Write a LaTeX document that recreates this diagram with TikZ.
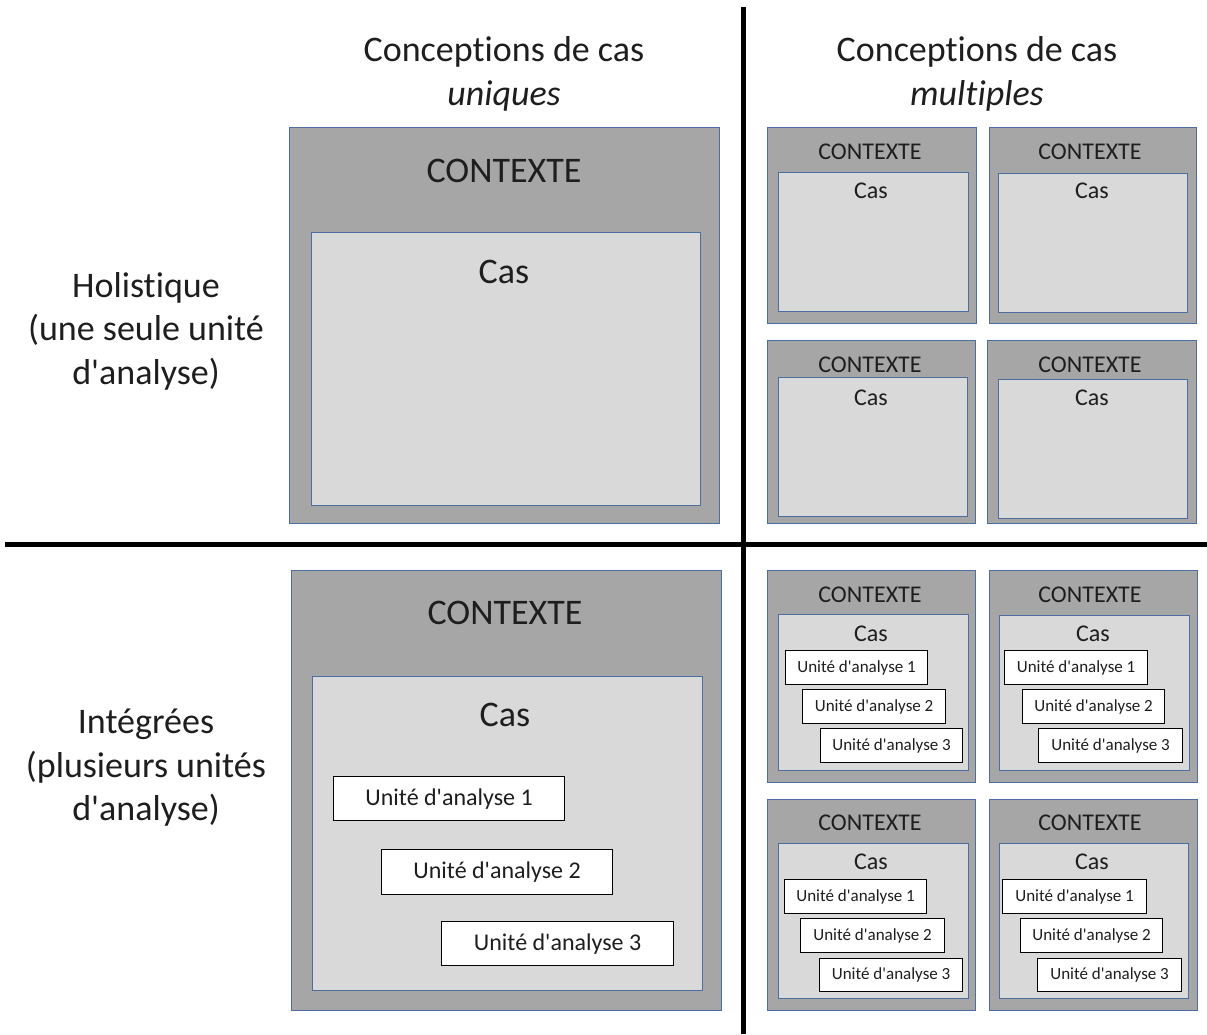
\documentclass[tikz,border=0pt]{standalone}
\usepackage{fontspec}
\setmainfont{Carlito}[Ligatures={NoCommon}]
\definecolor{grisfonce}{RGB}{166,166,166}
\definecolor{grisclair}{RGB}{217,217,217}
\definecolor{bordure}{RGB}{78,110,160}
\definecolor{texte}{RGB}{30,30,30}
\newcommand\apos{\textquotesingle}

\tikzset{ctx/.style = {draw = bordure,
                       fill = grisfonce,
                       line width = 1.3pt,
                       inner sep = 0pt,
                       anchor = north west},
         casbox/.style = {ctx,
                          fill = grisclair},
         unite/.style = {draw = black,
                         fill = white,
                         line width = 1.2pt,
                         inner sep = 0pt,
                         anchor = north west,
                         text = texte},
         grand/.style = {text = texte, anchor = base,
                         font = \fontsize{36}{44}\selectfont},
         petit/.style = {text = texte, anchor = base,
                         font = \fontsize{24}{28}\selectfont},
         titre/.style = {text = texte, align = center,
                         font = \fontsize{36}{43.5}\selectfont},
         separ/.style = {line width = 5pt, draw = black}}

\begin{document}
\begin{tikzpicture}[x=1pt, y=-1pt]
    \useasboundingbox (0,0) rectangle (1207,1034);

    % separateurs
    \coordinate (haut) at (743,7);
    \coordinate (bas) at (743,1034);
    \coordinate (gauche) at (5,544);
    \coordinate (droite) at (1207,544);
    \draw[separ] (haut) -- (bas);
    \draw[separ] (gauche) -- (droite);

    % titres
    \node[titre] (tuniq) at (504,74) {Conceptions de cas\\\textit{uniques}};
    \node[titre] (tmult) at (977,74) {Conceptions de cas\\\textit{multiples}};
    \node[titre] (holist) at (146,331) {Holistique\\(une seule unité\\d\apos analyse)};
    \node[titre] (integ) at (146,768) {Intégrées\\(plusieurs unités\\d\apos analyse)};

    % holistique, cas unique
    \node[ctx, minimum width=430, minimum height=396] (c1) at (289,127) {};
    \node[casbox, minimum width=389, minimum height=273] (k1) at (311,232) {};
    \node[grand] (c1t) at (504,182) {CONTEXTE};
    \node[grand] (k1t) at (504,283) {Cas};

    % holistique, cas multiples
    \node[ctx, minimum width=209, minimum height=196] (c2) at (767,127) {};
    \node[casbox, minimum width=190, minimum height=139] (k2) at (778,172) {};
    \node[petit] (c2t) at (870,159) {CONTEXTE};
    \node[petit] (k2t) at (871,198) {Cas};

    \node[ctx, minimum width=207, minimum height=196] (c3) at (989,127) {};
    \node[casbox, minimum width=189, minimum height=139] (k3) at (998,173) {};
    \node[petit] (c3t) at (1090,159) {CONTEXTE};
    \node[petit] (k3t) at (1092,198) {Cas};

    \node[ctx, minimum width=208, minimum height=183] (c4) at (767,340) {};
    \node[casbox, minimum width=189, minimum height=139] (k4) at (778,377) {};
    \node[petit] (c4t) at (870,372) {CONTEXTE};
    \node[petit] (k4t) at (871,405) {Cas};

    \node[ctx, minimum width=209, minimum height=183] (c5) at (987,340) {};
    \node[casbox, minimum width=189, minimum height=139] (k5) at (998,379) {};
    \node[petit] (c5t) at (1090,372) {CONTEXTE};
    \node[petit] (k5t) at (1092,405) {Cas};

    % integrees, cas unique
    \node[ctx, minimum width=430, minimum height=440] (c6) at (291,570) {};
    \node[casbox, minimum width=390, minimum height=314] (k6) at (312,676) {};
    \node[grand] (c6t) at (505,624) {CONTEXTE};
    \node[grand] (k6t) at (505,726) {Cas};
    \node[unite, minimum width=231, minimum height=44, font=\fontsize{24}{28}\selectfont] (u61) at (333,776) {Unité d\apos analyse 1};
    \node[unite, minimum width=231, minimum height=45, font=\fontsize{24}{28}\selectfont] (u62) at (381,849) {Unité d\apos analyse 2};
    \node[unite, minimum width=232, minimum height=44, font=\fontsize{24}{28}\selectfont] (u63) at (441,921) {Unité d\apos analyse 3};

    % integrees, cas multiples
    \node[ctx, minimum width=208, minimum height=212] (c7) at (767,570) {};
    \node[casbox, minimum width=190, minimum height=156] (k7) at (778,614) {};
    \node[petit] (c7t) at (870,602) {CONTEXTE};
    \node[petit] (k7t) at (871,641) {Cas};
    \node[unite, minimum width=142, minimum height=34, font=\fontsize{17}{20}\selectfont] (u71) at (785,650) {Unité d\apos analyse 1};
    \node[unite, minimum width=143, minimum height=34, font=\fontsize{17}{20}\selectfont] (u72) at (802,689) {Unité d\apos analyse 2};
    \node[unite, minimum width=142, minimum height=34, font=\fontsize{17}{20}\selectfont] (u73) at (820,728) {Unité d\apos analyse 3};

    \node[ctx, minimum width=208, minimum height=212] (c8) at (989,570) {};
    \node[casbox, minimum width=190, minimum height=155] (k8) at (999,615) {};
    \node[petit] (c8t) at (1090,602) {CONTEXTE};
    \node[petit] (k8t) at (1093,641) {Cas};
    \node[unite, minimum width=143, minimum height=34, font=\fontsize{17}{20}\selectfont] (u81) at (1004,650) {Unité d\apos analyse 1};
    \node[unite, minimum width=142, minimum height=34, font=\fontsize{17}{20}\selectfont] (u82) at (1022,689) {Unité d\apos analyse 2};
    \node[unite, minimum width=144, minimum height=34, font=\fontsize{17}{20}\selectfont] (u83) at (1038,728) {Unité d\apos analyse 3};

    \node[ctx, minimum width=208, minimum height=211] (c9) at (767,799) {};
    \node[casbox, minimum width=190, minimum height=155] (k9) at (778,843) {};
    \node[petit] (c9t) at (870,830) {CONTEXTE};
    \node[petit] (k9t) at (871,869) {Cas};
    \node[unite, minimum width=142, minimum height=34, font=\fontsize{17}{20}\selectfont] (u91) at (784,879) {Unité d\apos analyse 1};
    \node[unite, minimum width=144, minimum height=34, font=\fontsize{17}{20}\selectfont] (u92) at (800,918) {Unité d\apos analyse 2};
    \node[unite, minimum width=143, minimum height=33, font=\fontsize{17}{20}\selectfont] (u93) at (819,958) {Unité d\apos analyse 3};

    \node[ctx, minimum width=208, minimum height=211] (c10) at (989,799) {};
    \node[casbox, minimum width=189, minimum height=155] (k10) at (999,843) {};
    \node[petit] (c10t) at (1090,830) {CONTEXTE};
    \node[petit] (k10t) at (1092,869) {Cas};
    \node[unite, minimum width=144, minimum height=34, font=\fontsize{17}{20}\selectfont] (u101) at (1002,879) {Unité d\apos analyse 1};
    \node[unite, minimum width=142, minimum height=34, font=\fontsize{17}{20}\selectfont] (u102) at (1020,918) {Unité d\apos analyse 2};
    \node[unite, minimum width=144, minimum height=33, font=\fontsize{17}{20}\selectfont] (u103) at (1037,958) {Unité d\apos analyse 3};
\end{tikzpicture}
\end{document}
